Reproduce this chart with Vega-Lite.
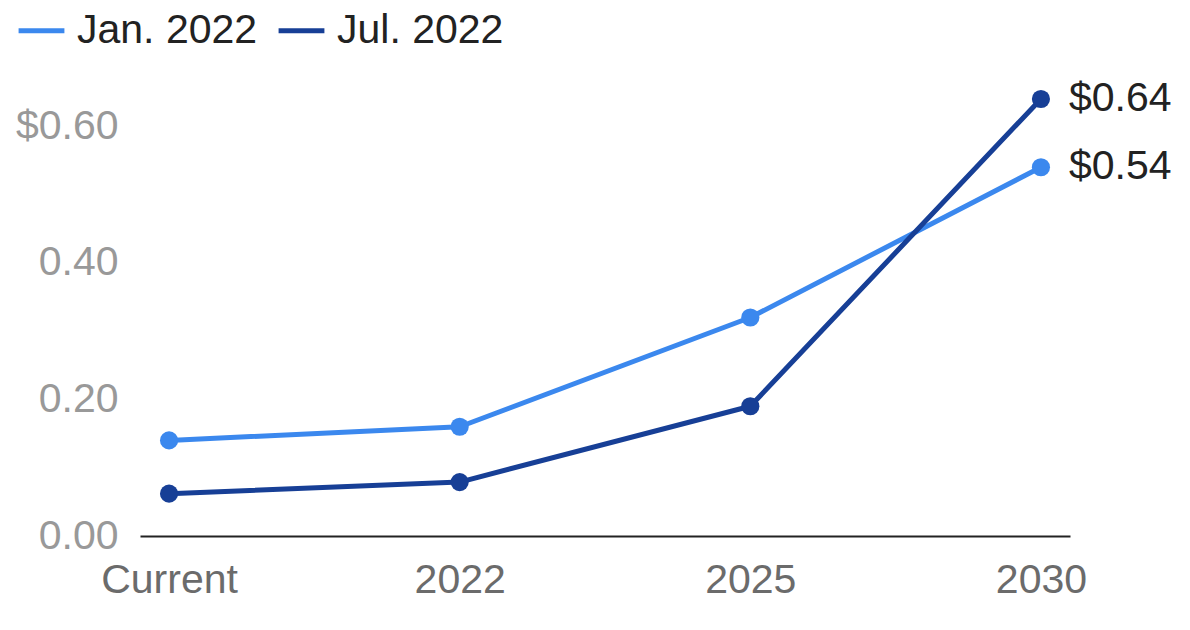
{
  "$schema": "https://vega.github.io/schema/vega-lite/v6.json",
  "width": 930,
  "height": 478,
  "autosize": {"type": "none"},
  "padding": {"left": 140, "top": 58, "right": 120, "bottom": 94},
  "background": "white",
  "config": {
    "view": {"stroke": null},
    "font": "Liberation Sans"
  },
  "data": {
    "values": [
      {"period": "Current", "series": "Jan. 2022", "value": 0.14},
      {"period": "2022", "series": "Jan. 2022", "value": 0.16},
      {"period": "2025", "series": "Jan. 2022", "value": 0.32},
      {"period": "2030", "series": "Jan. 2022", "value": 0.54},
      {"period": "Current", "series": "Jul. 2022", "value": 0.062},
      {"period": "2022", "series": "Jul. 2022", "value": 0.079},
      {"period": "2025", "series": "Jul. 2022", "value": 0.19},
      {"period": "2030", "series": "Jul. 2022", "value": 0.64}
    ]
  },
  "encoding": {
    "x": {
      "field": "period",
      "type": "ordinal",
      "sort": ["Current", "2022", "2025", "2030"],
      "scale": {"padding": 0.1},
      "axis": {
        "title": null,
        "labelAngle": 0,
        "labelFontSize": 41,
        "labelColor": "#6b6b6b",
        "labelPadding": 24,
        "ticks": false,
        "domainColor": "#222222",
        "domainWidth": 2,
        "grid": false
      }
    },
    "y": {
      "field": "value",
      "type": "quantitative",
      "scale": {"domain": [0, 0.7], "nice": false},
      "axis": {
        "title": null,
        "values": [0, 0.2, 0.4, 0.6],
        "labelExpr": "datum.value == 0.6 ? '$0.60' : format(datum.value, '.2f')",
        "labelFontSize": 41,
        "labelColor": "#999999",
        "labelPadding": 22,
        "labelBaseline": "middle",
        "ticks": false,
        "domain": false,
        "grid": false
      }
    },
    "color": {
      "field": "series",
      "type": "nominal",
      "scale": {"domain": ["Jan. 2022", "Jul. 2022"], "range": ["#3b88ee", "#173f96"]},
      "legend": {
        "title": null,
        "orient": "none",
        "legendX": -124,
        "legendY": -53,
        "direction": "horizontal",
        "symbolType": "stroke",
        "symbolSize": 2100,
        "symbolStrokeWidth": 5,
        "labelFontSize": 41,
        "labelColor": "#222222",
        "labelLimit": 0,
        "labelOffset": 10,
        "columnPadding": 10,
        "padding": 0
      }
    }
  },
  "layer": [
    {"mark": {"type": "line", "strokeWidth": 5, "strokeCap": "round", "strokeJoin": "round"}},
    {"mark": {"type": "point", "filled": true, "opacity": 1, "size": 330}},
    {
      "transform": [{"filter": "datum.period == '2030'"}],
      "mark": {"type": "text", "align": "left", "baseline": "middle", "dx": 28, "fontSize": 41, "color": "#222222"},
      "encoding": {
        "text": {"field": "value", "type": "quantitative", "format": "$.2f"},
        "color": {"value": "#222222"}
      }
    }
  ]
}
